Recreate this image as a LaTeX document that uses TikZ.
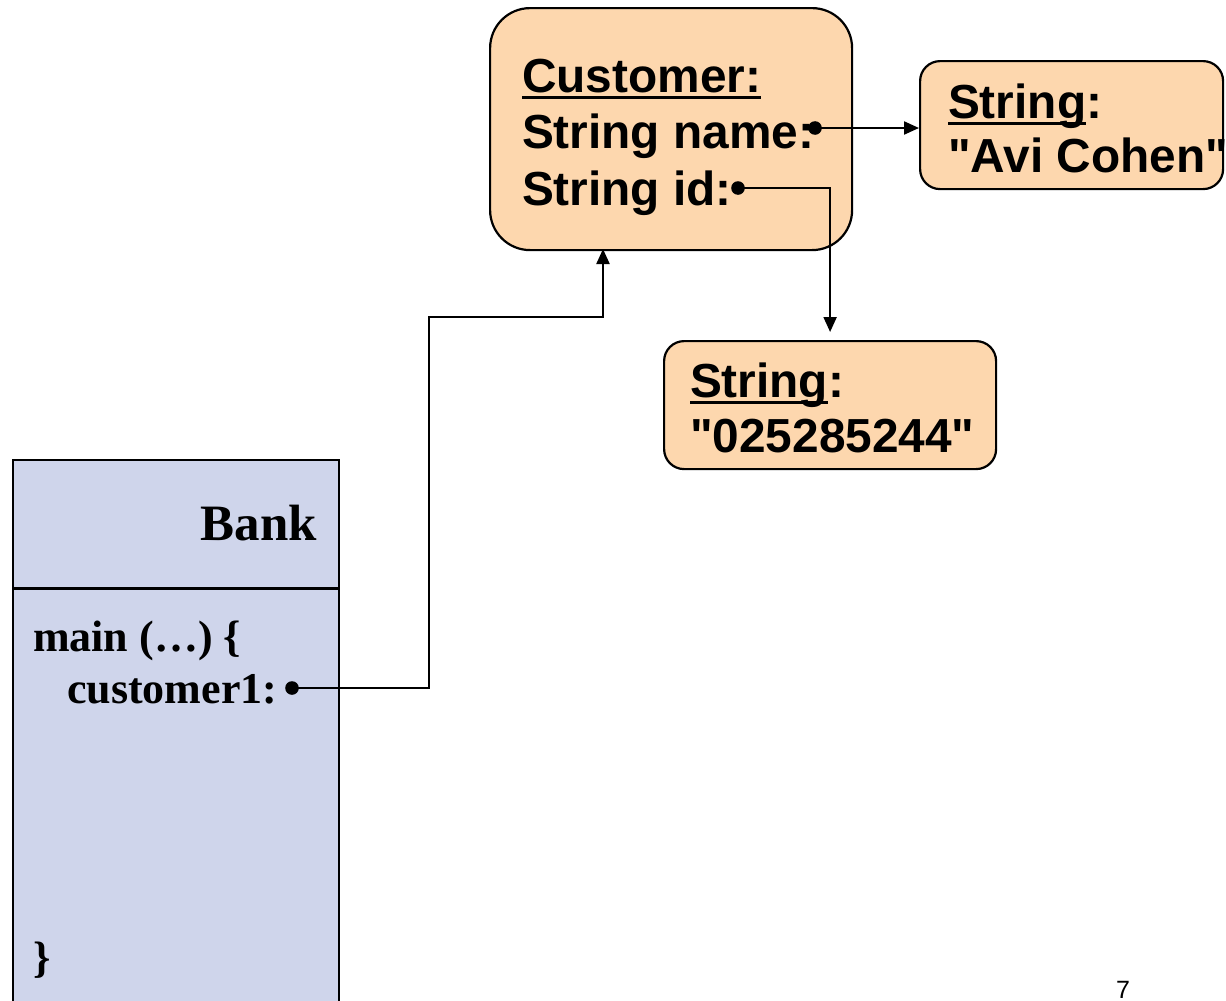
\documentclass[tikz,border=0pt]{standalone}
\usepackage{fontspec}
\usepackage{tikz}
\usetikzlibrary{positioning}
\usetikzlibrary{arrows.meta}
\newfontfamily\objfont{Liberation Sans}
\newfontfamily\stackfont{Liberation Serif}
\definecolor{peche}{RGB}{253,215,174}
\definecolor{lavande}{RGB}{207,213,235}
\newcommand{\souligne}[1]{\setbox0\hbox{#1}\rlap{\rule[-3.6pt]{\wd0}{1.6pt}}#1}

\begin{document}
\begin{tikzpicture}[x=0.5pt, y=-0.5pt, line width=1.1pt,
				obj/.style = {draw, fill=peche, rounded corners=10pt,
					anchor=north west, inner sep=0pt},
				objtext/.style = {anchor=base west, inner sep=0pt,
					font=\objfont\bfseries\fontsize{23.9}{28}\selectfont},
				stacktext/.style = {anchor=base west, inner sep=0pt,
					font=\stackfont\bfseries\fontsize{22}{26}\selectfont},
				dot/.style = {circle, fill, inner sep=0pt, minimum size=6.8pt},
				ref/.style = {draw, -{Triangle[length=7.5pt,width=6.5pt]}}]
				
				\useasboundingbox (0,0) rectangle (1226,1001);
				
				% Bank frame
				\node[draw, fill=lavande, anchor=north west, inner sep=0pt,
					minimum width=163pt, minimum height=281pt] (bank) at (12,459) {};
				\coordinate (split) at (12,588);
				\draw[line width=1.5pt] (split) -- (split -| bank.east);
				\node[anchor=base east, inner sep=0pt,
					font=\stackfont\bfseries\fontsize{25.5}{30}\selectfont] (bankname) at (318,540) {Bank};
				\node[stacktext] (main) at (32,651) {main (…) \{};
				\node[stacktext] (cust1) at (66,703) {customer1:};
				\node[stacktext] (close) at (32,972) {\}};
				
				% Customer object
				\node[obj, rounded corners=20pt, minimum width=181pt, minimum height=121pt] (cust) at (489,7) {};
				\node[objtext] (custhead) at (521,92) {\souligne{Customer:}};
				\node[objtext] (custname) at (521,148) {String name:};
				\node[objtext] (custid) at (521,205) {String id:};
				
				% String objects
				\node[obj, minimum width=151.5pt, minimum height=64pt] (strname) at (919,60) {};
				\node[objtext] (strnamehead) at (947,118) {\souligne{String}:};
				\node[objtext] (strnameval) at (947,172) {\textquotedbl Avi Cohen\textquotedbl};
				\node[obj, minimum width=166pt, minimum height=64pt] (strid) at (663,340) {};
				\node[objtext] (stridhead) at (689,397) {\souligne{String}:};
				\node[objtext] (stridval) at (689,452) {\textquotedbl 025285244\textquotedbl};
				
				% References
				\coordinate (bend) at (429,317);
				\coordinate (custin) at (603,249);
				\path[ref] (815,128) coordinate (nameref) -- (nameref -| strname.west);
				\path[ref, shorten >=4pt] (738,188) coordinate (idref) -| (strid.north);
				\path[ref] (292,688) coordinate (c1ref) -| (bend) -| (custin);
				\node[dot] (namedot) at (nameref) {};
				\node[dot] (iddot) at (idref) {};
				\node[dot] (c1dot) at (c1ref) {};
				
				% Slide number
				\node[anchor=base, inner sep=0pt, font=\objfont\fontsize{12.5}{15}\selectfont] (page) at (1123,998) {7};
				
			\end{tikzpicture}
\end{document}
